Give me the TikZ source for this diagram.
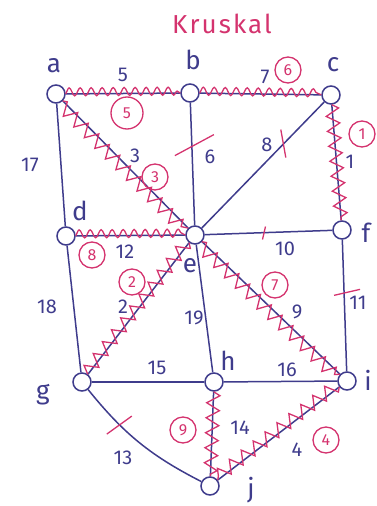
\documentclass[tikz,border=0pt]{standalone}
\usepackage{fontspec}
\setmainfont{Fira Sans}
\usepackage{xcolor}
\usepackage{tikz}
\usetikzlibrary{calc,decorations.pathmorphing}
\definecolor{ink}{HTML}{3F3C8C}
\definecolor{pen}{HTML}{D4336E}
\newfontfamily\titlefont[LetterSpace=8]{Fira Sans}
\tikzset{
  vertex/.style={circle,draw=ink,line width=1.5pt,fill=white,minimum size=18pt,inner sep=0pt},
  link/.style={draw=ink,line width=1.5pt},
  pick/.style={draw=pen,line width=1.3pt,decorate,
               decoration={zigzag,segment length=15pt,amplitude=6.5pt,raise=#1}},
  pick/.default=0pt,
  wave/.style={draw=pen,line width=1.3pt,decorate,
               decoration={snake,segment length=11pt,amplitude=4pt,raise=#1}},
  wave/.default=0pt,
  cut/.style={draw=pen,line width=1.3pt},
  weight/.style={text=ink,font=\fontsize{20}{22}\selectfont},
  vlabel/.style={text=ink,font=\fontsize{26}{28}\selectfont},
  order/.style={circle,draw=pen,line width=1.3pt,text=pen,inner sep=0pt,
                minimum size=26pt,font=\fontsize{16}{18}\selectfont}
}
\begin{document}
\begin{tikzpicture}[x=1pt,y=-1pt]
  \useasboundingbox (0,0) rectangle (376,506);
  \node[text=pen,font=\titlefont\fontsize{26}{28}\selectfont] (title) at (222,24) {Kruskal};

  % vertices
  \node[vertex] (a) at (56,94) {};
  \node[vertex] (b) at (190,93) {};
  \node[vertex] (c) at (331,95) {};
  \node[vertex] (d) at (66,236) {};
  \node[vertex] (e) at (195,235) {};
  \node[vertex] (f) at (342,230) {};
  \node[vertex] (g) at (82,382) {};
  \node[vertex] (h) at (214,382) {};
  \node[vertex] (i) at (347,381) {};
  \node[vertex] (j) at (210,486) {};

  \node[vlabel] (la) at (54,66) {a};
  \node[vlabel] (lb) at (193,60) {b};
  \node[vlabel] (lc) at (333,65) {c};
  \node[vlabel] (ld) at (80,211) {d};
  \node[vlabel] (le) at (190,266) {e};
  \node[vlabel] (lf) at (366,233) {f};
  \node[vlabel] (lg) at (43,395) {g};
  \node[vlabel] (lh) at (228,361) {h};
  \node[vlabel] (li) at (368,380) {i};
  \node[vlabel] (lj) at (251,490) {j};

  % edges
  \draw[link] (a) -- (b);
  \draw[link] (b) -- (c);
  \draw[link] (a) -- (d);
  \draw[link] (a) -- (e);
  \draw[link] (b) -- (e) coordinate[pos=.35] (be);
  \draw[link] (c) -- (e) coordinate[pos=.33] (ce);
  \draw[link] (c) -- (f);
  \draw[link] (d) -- (e);
  \draw[link] (e) -- (f) coordinate[pos=.5] (ef);
  \draw[link] (d) -- (g);
  \draw[link] (e) -- (g);
  \draw[link] (e) -- (h);
  \draw[link] (e) -- (i);
  \draw[link] (f) -- (i) coordinate[pos=.4] (fi);
  \draw[link] (g) -- (h);
  \draw[link] (h) -- (i);
  \draw[link] (h) -- (j);
  \draw[link] (i) -- (j);
  \draw[link] (g) to[bend right=12] coordinate[pos=.3] (gj) (j);

  % chosen edges
  \draw[wave=2pt] (a) -- (b);
  \draw[wave=2pt] (b) -- (c);
  \draw[pick=-4pt] (a) -- (e);
  \draw[pick] (c) -- (f);
  \draw[wave=2pt] (d) -- (e);
  \draw[pick=-2pt] (e) -- (g);
  \draw[pick=-4pt] (e) -- (i);
  \draw[pick] (h) -- (j);
  \draw[pick=-3pt] (i) -- (j);

  % rejected edges
  \draw[cut] ($(be)+(-17,10)$) -- ($(be)+(22,-11)$);
  \draw[cut] ($(ce)+(-3,-14)$) -- ($(ce)+(2,14)$);
  \draw[cut] ($(ef)+(-6,7)$) -- ($(ef)+(-3,-6)$);
  \draw[cut] ($(fi)+(-10,3)$) -- ($(fi)+(16,-3)$);
  \draw[cut] ($(gj)+(-12,10)$) -- ($(gj)+(13,-8)$);

  % weights
  \node[weight] (w5) at (123,75) {5};
  \node[weight] (w7) at (265,77) {7};
  \node[weight] (w3) at (135,156) {3};
  \node[weight] (w6) at (210,157) {6};
  \node[weight] (w8) at (267,145) {8};
  \node[weight] (w1) at (350,162) {1};
  \node[weight] (w17) at (30,165) {17};
  \node[weight] (w12) at (125,252) {12};
  \node[weight] (w2) at (123,307) {2};
  \node[weight] (w18) at (47,307) {18};
  \node[weight] (w19) at (194,318) {19};
  \node[weight] (w10) at (285,249) {10};
  \node[weight] (w9) at (297,312) {9};
  \node[weight] (w11) at (358,303) {11};
  \node[weight] (w15) at (157,368) {15};
  \node[weight] (w16) at (287,370) {16};
  \node[weight] (w14) at (240,428) {14};
  \node[weight] (w4) at (297,450) {4};
  \node[weight] (w13) at (123,458) {13};

  % order of choice
  \node[order] (o6) at (288,70) {6};
  \node[order,minimum width=32pt] (o5) at (127,113) {5};
  \node[order] (o3) at (155,177) {3};
  \node[order] (o1) at (362,134) {1};
  \node[order] (o8) at (92,255) {8};
  \node[order] (o2) at (132,282) {2};
  \node[order] (o7) at (275,285) {7};
  \node[order] (o9) at (183,430) {9};
  \node[order] (o4) at (326,440) {4};
\end{tikzpicture}
\end{document}
